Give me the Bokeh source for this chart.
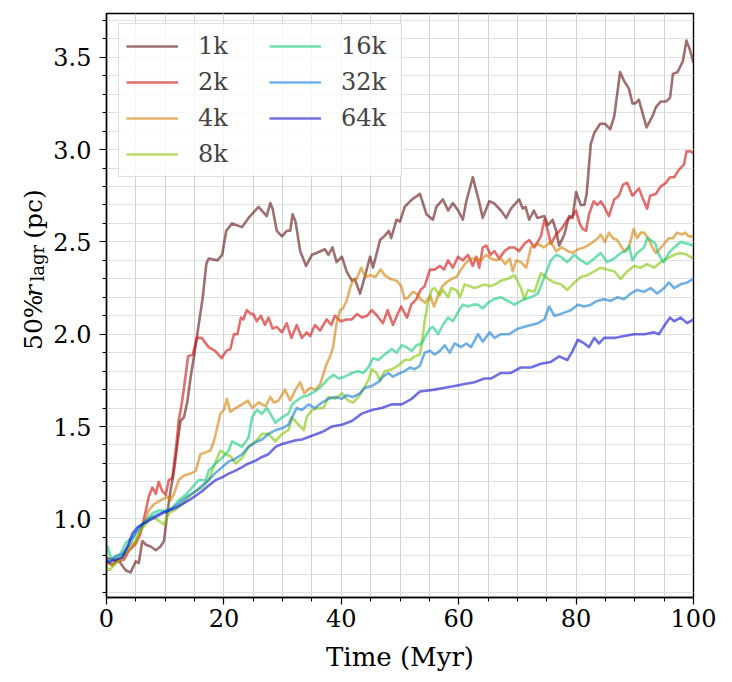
import math
from bokeh.plotting import figure
from bokeh.layouts import row
from bokeh.models import (Range1d, FixedTicker, PrintfTickFormatter, Legend, LegendItem)
from bokeh.core.properties import value
from bokeh.embed import file_html
from bokeh.resources import INLINE

# ---- data: (time [Myr], 50% Lagrangian radius [pc]) ----
S_1K = [(0,0.77),(1,0.75),(2,0.78),(2.4,0.76),(3.3,0.72),(4.1,0.71),(5.0,0.77),(5.5,0.76),(6.1,0.88),(6.7,0.86),
        (7.5,0.85),(8.4,0.83),(9.2,0.85),(9.8,0.88),(10.4,1.04),(10.9,1.15),(11.5,1.26),(12.1,1.41),(12.6,1.53),(13.2,1.55),
        (13.8,1.64),(14.3,1.76),(15.0,1.90),(15.7,2.05),(16.4,2.20),(17.0,2.38),(17.4,2.41),(18.9,2.40),(19.7,2.43),(20.4,2.56),
        (21.4,2.60),(23.1,2.58),(24.2,2.63),(25.9,2.69),(27.3,2.64),(27.9,2.71),(28.3,2.68),(29.0,2.56),(29.9,2.53),(30.7,2.56),
        (31.3,2.56),(31.7,2.65),(32.2,2.61),(33.0,2.45),(34.0,2.37),(35.0,2.43),(35.8,2.44),(37.2,2.46),(37.8,2.43),(38.5,2.47),
        (39.2,2.39),(40.1,2.42),(40.9,2.34),(41.8,2.29),(42.3,2.30),(43.2,2.22),(44.0,2.31),(44.9,2.42),(45.4,2.36),(46.6,2.51),
        (47.3,2.53),(48.1,2.56),(48.5,2.52),(49.4,2.62),(50.0,2.61),(50.8,2.69),(51.7,2.72),(52.5,2.74),(53.4,2.76),(54.5,2.65),
        (55.6,2.62),(56.2,2.69),(57.3,2.73),(58.2,2.67),(59.0,2.71),(59.9,2.67),(60.7,2.62),(61.3,2.72),(62.4,2.85),(63.3,2.74),
        (64.1,2.63),(65.2,2.72),(66.0,2.71),(67.2,2.67),(68.1,2.63),(68.9,2.68),(70.3,2.73),(70.9,2.68),(71.4,2.69),(72.0,2.62),
        (72.8,2.67),(73.4,2.63),(74.6,2.64),(75.2,2.59),(76.0,2.62),(76.6,2.56),(77.1,2.48),(78.0,2.54),(78.8,2.64),(79.4,2.63),
        (80.0,2.77),(80.8,2.70),(81.4,2.70),(81.8,2.76),(82.5,3.03),(83.1,3.09),(84.1,3.14),(84.9,3.14),(85.8,3.11),(86.5,3.18),
        (87.5,3.42),(88.2,3.37),(89.0,3.33),(89.6,3.25),(90.1,3.25),(90.7,3.27),(91.3,3.20),(92.0,3.12),(93.0,3.18),(93.6,3.23),
        (94.4,3.26),(95.3,3.26),(96.0,3.28),(96.5,3.41),(97.3,3.42),(98.2,3.48),(98.8,3.59),(99.4,3.54),(100.0,3.47)]

S_2K = [(0,0.79),(1,0.78),(2,0.77),(3,0.78),(3.85,0.83),(5.0,0.865),(5.8,0.92),(6.7,1.045),(7.2,1.12),(7.8,1.17),
        (8.4,1.135),(8.9,1.20),(9.5,1.15),(10.1,1.13),(10.6,1.21),(11.2,1.22),(11.8,1.37),(12.3,1.53),(12.9,1.64),(13.2,1.71),
        (13.9,1.88),(14.7,1.89),(15.4,1.98),(16.2,1.98),(17.4,1.93),(18.5,1.91),(19.6,1.87),(20.4,1.91),(21.1,1.92),(21.7,2.00),
        (22.3,2.00),(22.9,2.09),(23.3,2.08),(23.9,2.13),(24.6,2.11),(25.0,2.11),(25.6,2.07),(26.3,2.10),(27.0,2.05),(27.6,2.09),
        (28.3,2.03),(29.0,2.04),(29.9,2.01),(30.7,2.06),(31.5,1.98),(32.4,2.05),(33.3,1.98),(34.1,2.01),(34.7,1.99),(35.5,2.05),
        (36.4,2.02),(37.5,2.08),(38.3,2.05),(38.9,2.10),(39.9,2.07),(40.9,2.08),(41.8,2.08),(42.7,2.11),(43.5,2.09),(44.4,2.10),
        (45.2,2.13),(46.1,2.10),(47.1,2.06),(47.9,2.13),(48.8,2.05),(49.6,2.11),(50.2,2.15),(51.2,2.09),(51.9,2.16),(52.8,2.19),
        (53.5,2.24),(54.2,2.26),(55.1,2.35),(55.9,2.35),(56.8,2.37),(57.5,2.35),(58.2,2.40),(59.0,2.36),(59.9,2.42),(60.7,2.40),
        (61.6,2.43),(62.4,2.37),(63.0,2.42),(63.5,2.36),(64.1,2.47),(64.7,2.48),(65.4,2.43),(66.1,2.45),(66.9,2.41),(67.8,2.45),
        (68.7,2.47),(69.5,2.47),(70.3,2.45),(71.2,2.49),(72.0,2.51),(72.9,2.47),(74.0,2.53),(74.6,2.62),(75.2,2.56),(75.7,2.49),
        (76.6,2.54),(77.5,2.57),(78.5,2.62),(79.4,2.64),(80.0,2.67),(80.6,2.60),(81.1,2.57),(81.7,2.56),(82.2,2.65),(83.0,2.72),
        (83.6,2.70),(84.2,2.72),(84.8,2.69),(85.6,2.64),(86.5,2.73),(87.3,2.75),(88.0,2.81),(88.7,2.82),(89.6,2.75),(90.7,2.79),
        (91.3,2.74),(92.1,2.68),(92.6,2.75),(93.6,2.76),(94.4,2.80),(95.3,2.82),(96.0,2.85),(96.7,2.85),(97.5,2.89),(98.4,2.92),
        (98.8,2.99),(99.5,2.99),(100,2.98)]

S_4K = [(0,0.76),(1,0.75),(2,0.77),(2.7,0.80),(3.85,0.83),(5.0,0.88),(6.1,0.955),(7.2,1.045),(8.1,1.08),(9.2,1.10),
        (10.4,1.12),(10.9,1.10),(11.5,1.135),(12.3,1.21),(13.2,1.235),(14.3,1.245),(15.2,1.26),(16.0,1.35),(16.9,1.36),(17.7,1.37),
        (18.3,1.42),(18.9,1.50),(19.4,1.57),(20.0,1.59),(20.5,1.65),(21.1,1.58),(22.0,1.60),(23.1,1.62),(24.1,1.64),(24.8,1.60),
        (25.9,1.63),(27.1,1.61),(27.9,1.66),(28.5,1.63),(29.3,1.64),(30.4,1.70),(31.3,1.64),(32.2,1.70),(33.0,1.74),(33.7,1.68),
        (34.7,1.71),(35.6,1.70),(36.4,1.73),(37.0,1.79),(37.5,1.84),(38.1,1.88),(38.6,1.93),(39.2,2.06),(39.8,2.13),(40.3,2.14),
        (40.9,2.18),(41.5,2.25),(42.0,2.29),(42.6,2.30),(43.4,2.36),(44.1,2.31),(44.9,2.32),(45.8,2.31),(46.7,2.35),(47.4,2.32),
        (48.3,2.30),(49.4,2.29),(50.2,2.26),(50.8,2.19),(51.4,2.20),(52.2,2.23),(52.8,2.22),(53.5,2.19),(54.3,2.17),(55.1,2.21),
        (55.8,2.15),(56.5,2.21),(57.2,2.26),(57.9,2.28),(58.8,2.30),(59.6,2.31),(60.4,2.35),(61.3,2.39),(62.1,2.41),(63.0,2.41),
        (63.8,2.40),(64.7,2.43),(65.5,2.41),(66.4,2.40),(67.2,2.41),(67.9,2.38),(68.7,2.41),(69.2,2.34),(69.8,2.40),(70.6,2.39),
        (71.5,2.36),(72.3,2.47),(73.4,2.49),(74.5,2.47),(75.7,2.50),(76.6,2.45),(77.5,2.47),(78.6,2.45),(79.4,2.44),(80.3,2.46),
        (81.4,2.47),(82.5,2.49),(83.7,2.52),(84.2,2.54),(84.9,2.50),(85.6,2.55),(86.3,2.52),(87.0,2.51),(87.6,2.48),(88.2,2.45),
        (89.0,2.47),(89.8,2.57),(90.4,2.52),(91.0,2.55),(91.6,2.55),(92.3,2.52),(93.0,2.47),(93.6,2.44),(94.2,2.46),(95.0,2.49),
        (95.8,2.52),(96.5,2.52),(97.2,2.55),(98.0,2.54),(98.6,2.55),(99.2,2.53),(100,2.53)]

S_8K = [(0,0.74),(0.45,0.72),(1.6,0.76),(2.7,0.79),(3.85,0.85),(5.0,0.88),(5.8,0.94),(6.7,0.97),(7.8,1.01),(8.9,0.99),
        (9.8,0.97),(10.6,1.03),(11.8,1.05),(12.9,1.08),(14.0,1.12),(15.2,1.15),(16.3,1.17),(17.4,1.21),(18.6,1.31),(19.4,1.37),
        (20.3,1.35),(21.1,1.34),(22.0,1.30),(23.1,1.33),(24.2,1.39),(25.4,1.42),(26.5,1.46),(27.6,1.46),(28.8,1.42),(29.9,1.46),
        (31.0,1.48),(31.6,1.55),(32.7,1.51),(33.6,1.48),(34.1,1.55),(35.0,1.59),(36.1,1.60),(37.0,1.60),(37.8,1.66),(39.0,1.65),
        (40.1,1.68),(41.2,1.64),(42.0,1.63),(42.9,1.66),(43.7,1.70),(44.6,1.75),(45.2,1.81),(46.0,1.79),(46.6,1.75),(47.4,1.80),
        (48.6,1.81),(49.7,1.83),(50.8,1.86),(51.7,1.86),(52.5,1.88),(53.4,1.89),(53.8,1.97),(54.2,2.07),(54.7,2.16),(55.4,2.24),
        (55.9,2.25),(56.8,2.21),(57.3,2.24),(58.2,2.20),(58.7,2.25),(59.6,2.24),(60.2,2.20),(61.0,2.27),(61.9,2.26),(62.7,2.25),
        (63.6,2.26),(64.4,2.27),(65.3,2.26),(66.2,2.27),(67.2,2.29),(68.4,2.30),(69.5,2.32),(70.6,2.25),(71.2,2.19),(71.8,2.24),
        (72.9,2.23),(74.0,2.33),(75.2,2.30),(76.3,2.28),(77.4,2.27),(78.5,2.24),(79.7,2.28),(80.8,2.31),(81.9,2.32),(83.1,2.34),
        (84.2,2.36),(85.3,2.35),(86.5,2.34),(87.6,2.30),(88.7,2.34),(89.9,2.37),(91.0,2.36),(92.1,2.38),(93.3,2.36),(94.4,2.39),
        (95.5,2.41),(96.7,2.43),(97.8,2.44),(98.9,2.43),(100,2.41)]

S_16K = [(0,0.82),(0.2,0.85),(0.8,0.78),(2.2,0.80),(3.3,0.87),(4.4,0.90),(5.5,0.955),(6.7,0.99),(7.8,1.03),(8.9,1.045),
         (10.1,1.045),(11.2,1.06),(12.3,1.10),(13.5,1.13),(14.6,1.17),(15.7,1.21),(16.9,1.21),(17.4,1.26),(18.6,1.30),(19.7,1.33),
         (20.8,1.37),(21.4,1.42),(22.0,1.41),(23.1,1.39),(24.2,1.44),(24.8,1.55),(25.6,1.59),(26.5,1.57),(27.3,1.60),(27.9,1.57),
         (28.8,1.52),(29.9,1.55),(31.0,1.57),(31.6,1.62),(32.4,1.64),(33.3,1.66),(34.4,1.67),(35.5,1.69),(36.7,1.72),(37.8,1.76),
         (38.7,1.78),(39.5,1.76),(40.6,1.77),(41.8,1.79),(42.9,1.80),(43.7,1.79),(44.6,1.82),(45.4,1.87),(46.3,1.86),(47.4,1.89),
         (48.6,1.92),(49.4,1.90),(50.3,1.94),(51.1,1.93),(52.0,1.91),(52.8,1.94),(53.7,1.95),(54.2,1.98),(55.1,2.03),(55.6,2.04),
         (56.5,2.00),(57.3,2.05),(58.2,2.09),(59.0,2.07),(59.9,2.12),(60.7,2.16),(61.6,2.15),(62.4,2.16),(63.3,2.16),(64.1,2.14),
         (65.0,2.17),(66.0,2.19),(67.2,2.20),(68.4,2.18),(69.5,2.16),(71.2,2.19),(72.3,2.20),(73.5,2.22),(74.6,2.31),(75.7,2.40),
         (76.6,2.43),(77.4,2.42),(78.5,2.39),(79.7,2.43),(80.8,2.40),(81.9,2.38),(83.1,2.41),(84.2,2.44),(85.3,2.39),(86.5,2.41),
         (87.6,2.44),(88.5,2.45),(89.0,2.48),(89.6,2.40),(90.4,2.44),(91.6,2.47),(92.1,2.52),(92.7,2.51),(93.5,2.49),(94.1,2.43),
         (94.9,2.39),(95.8,2.44),(96.7,2.47),(97.8,2.50),(98.9,2.49),(100,2.48)]

S_32K = [(0,0.79),(0.45,0.77),(1.6,0.80),(2.7,0.81),(3.85,0.86),(5.0,0.92),(6.1,0.97),(7.2,1.00),(8.4,1.02),(9.5,1.035),
         (10.6,1.045),(11.8,1.07),(12.9,1.10),(14.0,1.125),(15.2,1.15),(16.3,1.18),(17.4,1.21),(18.6,1.25),(19.7,1.28),(20.8,1.31),
         (21.9,1.325),(23.1,1.35),(24.2,1.39),(25.4,1.415),(26.5,1.43),(27.6,1.46),(28.8,1.48),(29.9,1.49),(31.0,1.51),(31.6,1.55),
         (32.4,1.60),(33.3,1.59),(34.4,1.62),(35.5,1.60),(36.7,1.63),(37.8,1.65),(39.0,1.66),(40.1,1.65),(40.9,1.67),(42.0,1.66),
         (43.2,1.68),(44.0,1.71),(45.2,1.72),(46.3,1.74),(47.1,1.77),(48.0,1.79),(48.8,1.77),(50.0,1.79),(50.8,1.80),(51.7,1.82),
         (52.5,1.81),(53.4,1.83),(54.2,1.90),(55.1,1.91),(55.9,1.89),(56.8,1.91),(57.6,1.94),(58.5,1.90),(59.3,1.95),(60.4,1.93),
         (61.3,1.95),(62.1,1.93),(63.3,2.00),(64.1,1.96),(65.3,2.01),(66.1,1.98),(67.2,2.00),(68.6,2.00),(70.1,2.03),(71.2,2.04),
         (72.3,2.05),(73.5,2.06),(74.6,2.08),(75.4,2.15),(76.3,2.10),(77.4,2.11),(79.1,2.13),(80.3,2.16),(81.4,2.15),(82.5,2.16),
         (83.6,2.18),(84.8,2.19),(85.9,2.18),(87.0,2.20),(88.2,2.19),(89.3,2.22),(90.4,2.24),(91.6,2.23),(92.7,2.25),(93.8,2.22),
         (95.0,2.25),(95.8,2.28),(96.7,2.25),(97.8,2.27),(98.9,2.28),(100,2.30)]

S_64K = [(0,0.77),(0.45,0.765),(1.6,0.78),(2.7,0.79),(3.6,0.85),(4.4,0.92),(5.3,0.955),(6.1,0.97),(7.2,0.99),(8.4,1.01),
         (9.5,1.03),(10.6,1.045),(11.8,1.06),(12.9,1.08),(14.0,1.10),(15.2,1.125),(16.3,1.15),(17.4,1.18),(18.6,1.21),(19.7,1.225),
         (20.8,1.245),(21.9,1.26),(23.1,1.28),(24.2,1.30),(25.4,1.315),(26.5,1.335),(27.6,1.35),(28.8,1.39),(29.9,1.405),(31.0,1.415),
         (32.1,1.425),(33.3,1.43),(35.0,1.45),(36.7,1.47),(38.4,1.50),(40.1,1.51),(41.8,1.53),(43.5,1.57),(45.2,1.59),(46.9,1.60),
         (48.6,1.62),(50.3,1.62),(52.0,1.65),(53.4,1.69),(55.9,1.70),(57.6,1.71),(59.3,1.72),(61.0,1.73),(62.7,1.74),(64.4,1.76),
         (65.5,1.76),(67.2,1.79),(68.9,1.79),(70.6,1.82),(72.3,1.82),(74.0,1.84),(75.7,1.85),(77.1,1.88),(78.5,1.86),(79.4,1.91),
         (80.3,1.97),(81.4,1.95),(82.2,1.93),(83.1,1.98),(83.9,1.95),(84.8,1.98),(86.5,1.98),(88.2,1.99),(89.9,2.00),(91.6,2.00),
         (93.3,2.01),(94.1,2.00),(94.9,2.04),(96.0,2.09),(96.7,2.07),(97.8,2.09),(98.9,2.06),(100,2.08)]

LABELS = ["1k", "2k", "4k", "8k", "16k", "32k", "64k"]
SERIES = [S_1K, S_2K, S_4K, S_8K, S_16K, S_32K, S_64K]
COLORS = ["#611111", "#d20d0d", "#d27f00", "#7fc500", "#11cb7b", "#117bd2", "#1111d2"]

X_TICKS = [0, 20, 40, 60, 80, 100]
X_MINOR = [v for v in range(0, 101, 5)]
Y_TICKS = [1.0, 1.5, 2.0, 2.5, 3.0, 3.5]
Y_MINOR = [round(0.6 + 0.1 * i, 1) for i in range(32)]

X_TITLE = "Time (Myr)"
Y_TITLE_PARTS = ["50%", "r", "lagr", "(pc)"]

FONT = "DejaVu Serif"
FS = "24px"
LFS = "26px"

H = 682          # canvas height
YW = 50          # width of the strip holding the y title
MAIN_W = 666

# ---- main plot ----
p = figure(width=MAIN_W, height=H, output_backend="svg", toolbar_location=None,
           x_range=Range1d(0, 100), y_range=Range1d(0.574, 3.737),
           min_border_left=104 - YW, min_border_right=MAIN_W + YW - 693, min_border_top=13,
           min_border_bottom=H - 597)
p.title.visible = False
p.background_fill_color = "white"
p.border_fill_color = "white"
p.outline_line_color = "black"
p.outline_line_width = 1.4

renderers = []
for lab, ser, col in zip(LABELS, SERIES, COLORS):
    t, r = zip(*ser)
    rr = p.line(list(t), list(r), line_color=col, line_alpha=0.6, line_width=2.6, line_join="round")
    renderers.append(rr)

for ax in (p.xaxis[0], p.yaxis[0]):
    ax.axis_line_color = "black"
    ax.axis_line_width = 1.4
    ax.major_tick_line_color = "black"
    ax.minor_tick_line_color = "black"
    ax.major_tick_line_width = 1.2
    ax.minor_tick_line_width = 1.0
    ax.major_tick_out = 7
    ax.major_tick_in = 0
    ax.minor_tick_out = 4
    ax.minor_tick_in = 0
    ax.major_label_text_font = FONT
    ax.major_label_text_font_size = FS
    ax.major_label_text_color = "black"
    ax.major_label_text_line_height = 1.0

p.xaxis[0].ticker = FixedTicker(ticks=X_TICKS, minor_ticks=X_MINOR)
p.yaxis[0].ticker = FixedTicker(ticks=Y_TICKS, minor_ticks=Y_MINOR)
p.yaxis[0].formatter = PrintfTickFormatter(format="%.1f")
p.xaxis[0].axis_label = X_TITLE
p.xaxis[0].axis_label_text_font = FONT
p.xaxis[0].axis_label_text_font_size = LFS
p.xaxis[0].axis_label_text_font_style = "normal"
p.xaxis[0].axis_label_text_color = "black"
p.xaxis[0].axis_label_text_line_height = 1.0
p.xaxis[0].major_label_standoff = 4
p.xaxis[0].axis_label_standoff = 12
p.yaxis[0].major_label_standoff = 8

p.xgrid.grid_line_color = "#d2d2d2"
p.xgrid.minor_grid_line_color = "#d2d2d2"
p.ygrid.grid_line_color = "#e0e0e0"
p.ygrid.minor_grid_line_color = "#e0e0e0"

# legend: two columns; the first carries the shared frame, the second sits inside it
leg_style = dict(label_text_font=FONT, label_text_font_size=FS, glyph_width=52, glyph_height=30,
                 label_height=30, label_standoff=20, spacing=6, padding=7, margin=0)
items1 = [LegendItem(label=lab, renderers=[rr]) for lab, rr in zip(LABELS[:4], renderers[:4])]
items2 = [LegendItem(label=lab, renderers=[rr]) for lab, rr in zip(LABELS[4:], renderers[4:])]
leg1 = Legend(items=items1, location=(12, 420), label_width=196,
              background_fill_color="white", background_fill_alpha=0.8,
              border_line_color="#d8d8d8", border_line_alpha=0.8, border_line_width=1, **leg_style)
leg2 = Legend(items=items2, location=(163, 464), label_width=20,
              background_fill_alpha=0.0, border_line_color=None, **leg_style)
p.add_layout(leg1, "center")
p.add_layout(leg2, "center")

# ---- y title strip: 50% r_lagr (pc), written bottom-to-top (strip coords = pixels) ----
yf = figure(width=YW, height=H, output_backend="svg", toolbar_location=None,
            x_range=Range1d(0, YW), y_range=Range1d(0, H), x_axis_type=None, y_axis_type=None,
            min_border=0, min_border_left=0, min_border_right=0, min_border_top=0, min_border_bottom=0)
yf.title.visible = False
yf.outline_line_color = None
yf.grid.visible = False
yf.background_fill_color = "white"
yf.border_fill_color = "white"
ypos = [(33, H - 393, "normal", "25px"), (33, H - 331, "italic", "25px"),
        (36.5, H - 313, "normal", "18px"), (33, H - 263, "normal", "25px")]
for txt, (xx, yy, sty, fs) in zip(Y_TITLE_PARTS, ypos):
    yf.text(x=[xx], y=[yy], text=[txt], angle=math.pi / 2, text_font=value(FONT), text_font_size=value(fs),
            text_font_style=sty, text_color="black", text_align="left", text_baseline="alphabetic")

layout = row(yf, p, spacing=0)
open("out.html", "w").write(file_html(layout, INLINE))
